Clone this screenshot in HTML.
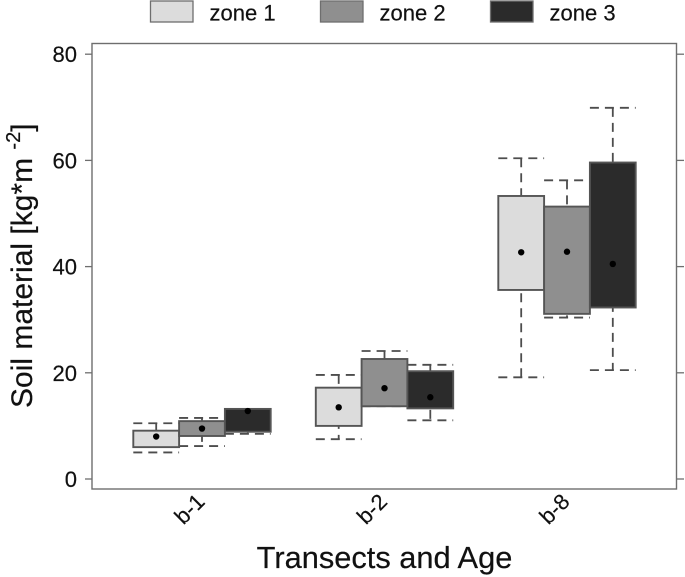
<!DOCTYPE html>
<html lang="en">
<head>
<meta charset="utf-8">
<title>Soil material boxplot</title>
<style>
html,body{margin:0;padding:0;background:#fff;width:685px;height:577px;overflow:hidden}
svg{display:block}
text{font-family:"Liberation Sans",Arial,sans-serif;fill:#111;stroke:#111;stroke-width:0.2}
</style>
</head>
<body>
<svg id="chart" width="685" height="577" viewBox="0 0 685 577" xmlns="http://www.w3.org/2000/svg">
  <rect x="92" y="43.5" width="584.5" height="445.5" fill="#fff" stroke="#6e6e6e" stroke-width="1.4"/>
  <text x="384.5" y="568" font-size="30.8" text-anchor="middle">Transects and Age</text>
  <text transform="translate(32,408) rotate(-90)" font-size="30">Soil material [kg*m <tspan font-size="20" dy="-12">-2</tspan><tspan dy="12">]</tspan></text>
</svg>
<script>
const categories = ['b-1', 'b-2', 'b-8'];
const zones = ['zone 1', 'zone 2', 'zone 3'];
const yTicks = [0, 20, 40, 60, 80];
const zone1Low = [5.0, 7.5, 19.15];
const zone1Q1 = [6.0, 10.0, 35.6];
const zone1Mean = [8.0, 13.5, 42.7];
const zone1Q3 = [9.1, 17.2, 53.3];
const zone1High = [10.5, 19.6, 60.4];
const zone2Low = [6.2, 13.7, 30.4];
const zone2Q1 = [8.1, 13.7, 31.1];
const zone2Mean = [9.5, 17.1, 42.8];
const zone2Q3 = [10.9, 22.6, 51.3];
const zone2High = [11.5, 24.1, 56.25];
const zone3Low = [8.5, 11.05, 20.5];
const zone3Q1 = [8.9, 13.3, 32.3];
const zone3Mean = [12.8, 15.4, 40.5];
const zone3Q3 = [13.2, 20.3, 59.6];
const zone3High = [13.2, 21.5, 69.9];

const lows = [zone1Low, zone2Low, zone3Low];
const q1s = [zone1Q1, zone2Q1, zone3Q1];
const means = [zone1Mean, zone2Mean, zone3Mean];
const q3s = [zone1Q3, zone2Q3, zone3Q3];
const highs = [zone1High, zone2High, zone3High];
const fills = ['#dcdcdc', '#8f8f8f', '#2b2b2b'];
const svg = document.getElementById('chart');
const NS = 'http://www.w3.org/2000/svg';
const yScale = v => 479 - 5.31 * v;
const xScale = (c, z) => 202 + 182.5 * c + (z - 1) * 45.8;
const boxW = 45.8;

function make(tag, props) {
  const el = document.createElementNS(NS, tag);
  for (const k in props) el.setAttribute(k, props[k]);
  svg.appendChild(el);
  return el;
}

yTicks.forEach(t => {
  const y = yScale(t);
  const left = make('line', {x1: 85, x2: 92, y1: y, y2: y, stroke: '#6e6e6e', 'stroke-width': 1.3});
  
  
  const right = make('line', {x1: 676.5, x2: 684, y1: y, y2: y, stroke: '#6e6e6e', 'stroke-width': 1.3});
  
  
  const label = make('text', {x: 77, y: y + 8, 'font-size': 22, 'text-anchor': 'end'});
  label.textContent = t;
  
  
});

categories.forEach((cat, c) => {
  const label = make('text', {transform: 'translate(' + (xScale(c, 1) + 4) + ',503) rotate(-45)', 'font-size': 22, 'text-anchor': 'end'});
  label.textContent = cat;
  
  
  zones.forEach((zone, z) => {
    const cx = xScale(c, z);
    const x0 = cx - boxW / 2;
    const x1 = cx + boxW / 2;
    const dash = {stroke: '#4d4d4d', 'stroke-width': 1.8, 'stroke-dasharray': '9 6', fill: 'none'};
    const stem = make('path', Object.assign({d: 'M' + cx + ' ' + yScale(highs[z][c]) + 'V' + yScale(lows[z][c])}, dash));
    
    
    const capHigh = make('line', Object.assign({x1: x0, x2: x1, y1: yScale(highs[z][c]), y2: yScale(highs[z][c])}, dash));
    
    
    const capLow = make('line', Object.assign({x1: x0, x2: x1, y1: yScale(lows[z][c]), y2: yScale(lows[z][c])}, dash));
    
    
  });
  zones.forEach((zone, z) => {
    const cx = xScale(c, z);
    const box = make('rect', {x: cx - boxW / 2, y: yScale(q3s[z][c]), width: boxW, height: yScale(q1s[z][c]) - yScale(q3s[z][c]), fill: fills[z], stroke: '#555', 'stroke-width': 1.9});
    
    
  });
  zones.forEach((zone, z) => {
    const dot = make('circle', {cx: xScale(c, z), cy: yScale(means[z][c]), r: 3.2, fill: '#000'});
    
    
  });
});

zones.forEach((zone, z) => {
  const sx = 150.5 + 170 * z;
  const swatch = make('rect', {x: sx, y: 1, width: 42.5, height: 21, fill: fills[z], stroke: '#6e6e6e', 'stroke-width': 1.3});
  
  
  const label = make('text', {x: sx + 59, y: 20.5, 'font-size': 22});
  label.textContent = zone;
  
  
});
</script>
</body>
</html>
